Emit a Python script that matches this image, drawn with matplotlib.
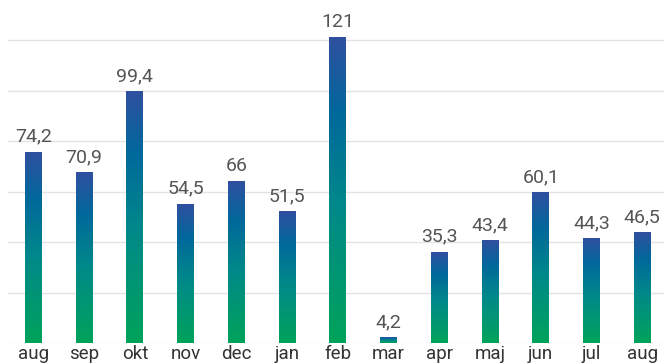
import matplotlib
matplotlib.use('Agg')
import matplotlib.pyplot as plt
from matplotlib.colors import LinearSegmentedColormap
import numpy as np

months = ['aug', 'sep', 'okt', 'nov', 'dec', 'jan', 'feb', 'mar', 'apr', 'maj', 'jun', 'jul', 'aug']
# printed labels
labels = ['74,2', '70,9', '99,4', '54,5', '66', '51,5', '121', '4,2', '35,3', '43,4', '60,1', '44,3', '46,5']
# bar heights as drawn in the picture
heights = [75.4, 67.4, 99.5, 54.8, 63.9, 52.0, 121, 2.0, 35.8, 40.5, 59.5, 41.3, 43.7]

plt.rcParams['font.family'] = ['Roboto', 'DejaVu Sans']

cmap = LinearSegmentedColormap.from_list(
    'grad', [(0, '#00a35a'), (0.45, '#00898a'), (0.75, '#00699b'), (1, '#3050a0')])
grad = np.linspace(0, 1, 256).reshape(-1, 1)

fig = plt.figure(figsize=(6.64, 3.63), dpi=100)
ax = fig.add_axes([8 / 664, 19.7 / 363, 656 / 664, 343.3 / 363])

x = np.arange(len(heights))
w = 0.33

for yv in range(0, 140, 20):
    ax.axhline(yv, color='#e3e3e3', lw=1, zorder=0)

for xi, h, lab in zip(x, heights, labels):
    ax.imshow(grad, extent=[xi - w / 2, xi + w / 2, 0, h], origin='lower',
              cmap=cmap, aspect='auto', zorder=2, interpolation='bilinear')
    ax.annotate(lab, (xi, h), xytext=(0, 8), textcoords='offset points',
                ha='center', va='baseline', fontsize=14, color='#555555')

ax.set_xlim(-0.5, 12.43)
ax.set_ylim(0, 136)
ax.set_xticks(x)
ax.set_xticklabels(months, fontsize=13.5, color='#333333')
ax.tick_params(axis='x', length=0, pad=1)
ax.set_yticks([])
for s in ax.spines.values():
    s.set_visible(False)

fig.savefig('out.png', dpi=100)
